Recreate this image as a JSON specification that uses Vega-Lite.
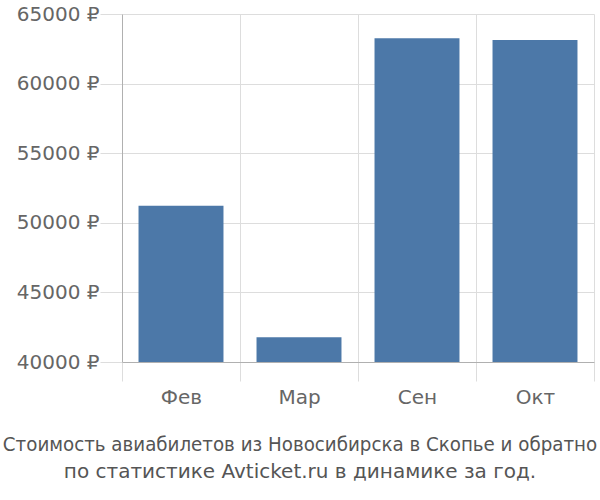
{
  "$schema": "https://vega.github.io/schema/vega-lite/v6.json",
  "width": 472,
  "height": 348,
  "autosize": "none",
  "padding": {"left": 122, "top": 14, "right": 6, "bottom": 138},
  "background": "white",
  "data": {
    "values": [
      {"month": "Фев", "price": 51230},
      {"month": "Мар", "price": 41770},
      {"month": "Сен", "price": 63250},
      {"month": "Окт", "price": 63130}
    ]
  },
  "title": {
    "text": "Стоимость авиабилетов из Новосибирска в Скопье и обратно",
    "subtitle": "по статистике Avticket.ru в динамике за год.",
    "orient": "bottom",
    "anchor": "middle",
    "dx": -58,
    "offset": 28,
    "font": "DejaVu Sans Condensed",
    "fontSize": 20.3,
    "fontWeight": "normal",
    "color": "#555555",
    "subtitleFont": "DejaVu Sans",
    "subtitleFontSize": 20,
    "subtitleColor": "#555555",
    "subtitlePadding": 7
  },
  "config": {
    "view": {"stroke": null},
    "axis": {"labelFont": "DejaVu Sans", "labelFontSize": 20, "labelColor": "#666666", "gridColor": "#dddddd", "domainColor": "#b0b0b0", "tickColor": "#dddddd"}
  },
  "mark": {"type": "bar", "color": "#4c78a8", "width": {"band": 0.72}, "clip": true},
  "encoding": {
    "x": {
      "field": "month",
      "type": "nominal",
      "sort": null,
      "scale": {"paddingInner": 0, "paddingOuter": 0},
      "axis": {"title": null, "labelAngle": 0, "tickBand": "extent", "grid": true, "tickSize": 19, "labelPadding": 6}
    },
    "y": {
      "field": "price",
      "type": "quantitative",
      "scale": {"domain": [40000, 65000], "nice": false, "zero": false},
      "axis": {"title": null, "values": [40000, 45000, 50000, 55000, 60000, 65000], "tickSize": 22, "labelPadding": 1, "labelExpr": "datum.value + ' ₽'"}
    }
  }
}
